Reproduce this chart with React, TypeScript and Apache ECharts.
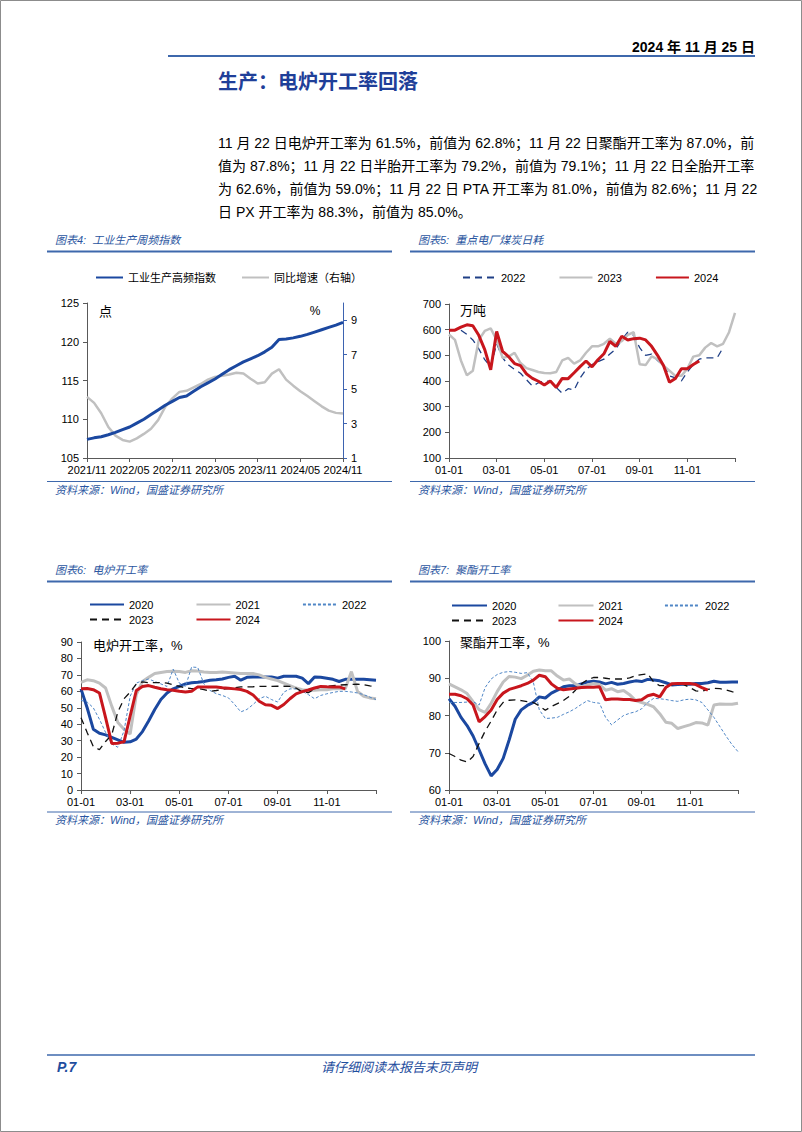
import React, { useEffect, useRef } from 'react';
import * as echarts from 'echarts';

const FONT = '"Liberation Sans", Arial, "Noto Sans CJK SC", sans-serif';
const NAVY = '#1B48A0';
const GRAY = '#C0C0C0';
const RED = '#C8161D';
const LIGHT = '#4F86C6';
const DARK = '#111111';
const RULE = '#3E68AC';
const TEXTBLUE = '#2A55A0';

// ---------- Chart 图表4: 工业生产周频指数 (monthly, from 2021/11) ----------
const idxTickLabels = ['2021/11', '2022/05', '2022/11', '2023/05', '2023/11', '2024/05', '2024/11'];
const industryIndex = [107.4, 107.6, 107.75, 108.0, 108.3, 108.65, 109.0, 109.5, 110.0, 110.6, 111.2, 111.8, 112.3, 112.8, 113.0, 113.6, 114.2, 114.7, 115.2, 115.8, 116.4, 116.9, 117.4, 117.8, 118.2, 118.7, 119.3, 120.3, 120.35, 120.5, 120.7, 120.95, 121.25, 121.55, 121.85, 122.15, 122.5];
const industryYoY = [4.55, 4.2, 3.6, 2.8, 2.3, 2.05, 1.95, 2.14, 2.4, 2.7, 3.2, 3.97, 4.46, 4.84, 4.9, 5.1, 5.3, 5.55, 5.71, 5.78, 5.85, 5.95, 5.9, 5.6, 5.33, 5.4, 5.9, 6.15, 5.55, 5.2, 4.88, 4.6, 4.3, 4.0, 3.75, 3.62, 3.58];

// ---------- shared seasonal x axis (weekly points, step = 1/4 month) ----------
const seasonTickLabels = ['01-01', '03-01', '05-01', '07-01', '09-01', '11-01', ''];
const WEEK_STEP = 0.25;

// ---------- 图表5: 重点电厂煤炭日耗 (万吨) ----------
const coal2022 = [600, 600, 598, 582, 560, 525, 483, 455, 545, 490, 462, 445, 430, 405, 380, 393, 400, 398, 375, 352, 370, 365, 412, 445, 464, 475, 485, 505, 525, 560, 590, 578, 530, 500, 505, 480, 460, 420, 412, 400, 435, 465, 485, 490, 490, 490, 530];
const coal2023 = [581, 560, 480, 422, 440, 560, 595, 605, 560, 490, 495, 510, 470, 450, 443, 435, 431, 430, 435, 480, 490, 468, 480, 510, 535, 535, 545, 565, 545, 555, 580, 590, 465, 462, 496, 485, 460, 440, 420, 420, 448, 495, 500, 530, 548, 535, 545, 590, 665];
const coal2024 = [598, 598, 610, 619, 615, 578, 522, 444, 593, 515, 495, 468, 460, 428, 410, 399, 384, 400, 375, 410, 409, 432, 456, 478, 455, 483, 506, 554, 535, 574, 560, 565, 567, 560, 535, 500, 460, 395, 410, 448, 448, 464, 478];

// ---------- 图表6: 电炉开工率 (%) ----------
const eaf2020 = [61.5, 50, 37, 34.5, 33.5, 32, 30.5, 29, 29.3, 31, 35.5, 42, 49, 55, 59, 61.5, 63, 64.5, 65.2, 65.5, 66, 66.7, 67, 67.5, 68.5, 69.2, 66.8, 68.5, 68.7, 68.7, 68.7, 68.7, 68, 69.2, 69.2, 69.2, 68, 64.7, 68.7, 68.5, 68, 67.3, 66, 67.3, 67.3, 67.3, 67.3, 67, 66.7];
const eaf2021 = [65.5, 67, 66.5, 65, 62, 51, 41, 37, 34, 58, 66, 68.5, 70.8, 71.5, 72, 72.2, 72, 71.5, 72.5, 72.3, 71.8, 71.5, 71.4, 71.8, 71.5, 71.2, 70.8, 70.8, 70.8, 70, 68.5, 67.5, 66.5, 65, 63.5, 62, 61, 60.7, 60.7, 61, 61, 61.5, 61.7, 61.5, 72, 60, 57, 56, 55.5];
const eaf2022 = [54.5, 53.5, 50, 43, 35, 28, 26, 36, 57, 65, 66.5, 67.5, 66, 64.5, 63, 73.5, 65, 63, 74.8, 74.5, 64.5, 60.5, 58.6, 57.5, 56, 52, 47.5, 49, 52, 55.5, 57, 55, 53.5, 59.5, 61.5, 61.5, 60, 58, 55.5, 57.5, 58.5, 59.3, 60, 60, 59.6, 59, 58, 56.5, 55];
const eaf2023 = [44, 35, 26.5, 24.5, 29.5, 33.5, 47.5, 55.5, 59.5, 64.5, 65.7, 65.3, 65.3, 65.3, 65, 64, 63, 62, 61.7, 61.7, 61, 60, 60.5, 61.2, 61.7, 62.2, 62.7, 62.7, 62.8, 63, 63, 63, 63.1, 63.1, 63, 62, 59.6, 59.2, 61.5, 62.5, 63, 63.5, 63.8, 64, 64.2, 64.3, 64, 63.3, 63];
const eaf2024 = [61.5, 61.7, 61, 59, 44, 28.3, 28.5, 29.3, 45, 60.5, 63, 63.5, 62.5, 61.6, 61, 60.7, 60, 59.6, 60, 62.7, 62.7, 62.7, 62.7, 62.2, 61.9, 61.5, 61.1, 60, 57.8, 54, 51.8, 51.5, 49.5, 52, 55.5, 58.5, 59.8, 60.8, 62, 63, 62.8, 62.7, 62.7, 61.5];

// ---------- 图表7: 聚酯开工率 (%) ----------
const pol2020 = [84.5, 82.5, 79.5, 77.3, 74.5, 70.8, 67, 63.8, 65.5, 68.5, 73.5, 79, 81.5, 82.7, 83.5, 85, 84.7, 86, 86.8, 87.7, 88, 88, 88.5, 89, 89.2, 89, 88.5, 88.9, 88.4, 88.6, 89, 89.3, 89.1, 89.7, 89.5, 89.3, 88.8, 88.2, 88.3, 88.4, 88.4, 88.6, 88.6, 88.8, 89.2, 88.9, 88.9, 89, 89];
const pol2021 = [88.5, 87.7, 86.9, 85.9, 83.7, 81.6, 80.8, 83.3, 86.4, 89, 90.5, 90.3, 89.9, 90.8, 91.9, 92.2, 92, 92, 90.6, 89.5, 89.8, 88.5, 87.7, 88.2, 88.6, 88.3, 86.8, 87.2, 86.4, 86.7, 85.6, 84, 83.5, 83, 82.3, 80.5, 78.2, 77.9, 76.5, 77, 77.5, 78.1, 78, 77.4, 82.8, 83.1, 83, 83, 83.3];
const pol2022 = [83.5, 83.5, 83.5, 83.6, 83.7, 82.8, 87.5, 89.8, 91, 91.6, 91.8, 91.6, 91.3, 91.5, 89, 81.5, 79.2, 79.3, 79.5, 80.3, 81, 81.9, 83, 84, 83.5, 83.3, 79.5, 77.5, 78.8, 80, 80.6, 81, 81.8, 83.5, 84.6, 84.5, 84.3, 84, 83.8, 84.2, 84.4, 84.2, 83.5, 81.5, 79.5, 77, 74.5, 72.2, 70.3];
const pol2023 = [69.8, 69, 68, 67.5, 69, 72.5, 75.8, 78.5, 81.5, 83.5, 84.1, 84.2, 84, 83.7, 83.5, 82.6, 81.4, 82.4, 83.2, 84, 85.2, 86.8, 88.5, 89.6, 90.2, 90.2, 90, 89.8, 89.8, 89.8, 90.1, 90.7, 91, 91.2, 89, 88, 88, 88.2, 88.6, 88.3, 87.5, 86.6, 86.5, 87, 87.3, 87.2, 86.9, 86.4, 86];
const pol2024 = [85.7, 85.7, 85.3, 84.5, 82.8, 78.3, 79.7, 81.5, 84.3, 86, 87, 87.5, 88, 88.6, 89.5, 90.8, 90.4, 88.5, 87.3, 86.9, 87.1, 87.3, 87.5, 87.6, 87.6, 87.7, 84.2, 84.4, 84.4, 84.3, 84.3, 84, 84.2, 85.3, 85.7, 85, 87.5, 88.5, 88.6, 88.6, 88.6, 88.3, 87.5, 86.8];

const paragraph = [
  '11 月 22 日电炉开工率为 61.5%，前值为 62.8%；11 月 22 日聚酯开工率为 87.0%，前',
  '值为 87.8%；11 月 22 日半胎开工率为 79.2%，前值为 79.1%；11 月 22 日全胎开工率',
  '为 62.6%，前值为 59.0%；11 月 22 日 PTA 开工率为 81.0%，前值为 82.6%；11 月 22',
  '日 PX 开工率为 88.3%，前值为 85.0%。',
];

function pairs(vals: number[], step: number) {
  return vals.map((v, i) => [i * step, v]);
}

function line(name: string, xi: number, yi: number, data: number[][], color: string, width: number, type: any = 'solid', z = 2) {
  return {
    type: 'line',
    name,
    xAxisIndex: xi,
    yAxisIndex: yi,
    data,
    symbol: 'none',
    showSymbol: false,
    smooth: false,
    lineStyle: { color, width, type },
    itemStyle: { color },
    emphasis: { disabled: true },
    z,
  };
}

const axisLineStyle = { color: '#595959', width: 1 };
const labelStyle = { fontSize: 11, fontFamily: FONT, color: '#000' };

function xAxisSeason(gridIndex: number) {
  return {
    type: 'value',
    gridIndex,
    min: 0,
    max: 12,
    interval: 2,
    axisLine: { show: true, lineStyle: axisLineStyle },
    axisTick: { show: true, length: 4, lineStyle: axisLineStyle },
    axisLabel: { ...labelStyle, margin: 6, formatter: (v: number) => seasonTickLabels[Math.round(v / 2)] ?? '' },
    splitLine: { show: false },
  };
}

function yAxisBasic(gridIndex: number, min: number, max: number, interval: number) {
  return {
    type: 'value',
    gridIndex,
    min,
    max,
    interval,
    axisLine: { show: true, lineStyle: axisLineStyle },
    axisTick: { show: true, length: 4, lineStyle: axisLineStyle },
    axisLabel: { ...labelStyle, margin: 8 },
    splitLine: { show: false },
  };
}

function legend(left: number, top: number, names: string[], itemWidth: number, itemGap: number) {
  return {
    left,
    top,
    orient: 'horizontal',
    itemWidth,
    itemHeight: 10,
    itemGap,
    padding: 0,
    selectedMode: false,
    data: names,
    itemStyle: { opacity: 0, borderWidth: 0 },
    formatter: (n: string) => n.slice(3),
    textStyle: { fontSize: 11, fontFamily: FONT, color: '#000' },
  };
}

function txt(x: number, y: number, text: string, font: string, fill = '#000', align = 'left') {
  return { type: 'text', x, y, silent: true, style: { text, font, fill, align, verticalAlign: 'middle' } };
}
function hline(x1: number, x2: number, y: number, stroke: string, lineWidth: number) {
  return { type: 'line', silent: true, shape: { x1, y1: y, x2, y2: y }, style: { stroke, lineWidth } };
}

const CAP_FONT = `italic 11px ${FONT}`;
const SRC = '资料来源：Wind，国盛证券研究所';

export default function App() {
  const ref = useRef<HTMLDivElement>(null);
  useEffect(() => {
    if (!ref.current) return;
    const chart = echarts.init(ref.current, undefined, { renderer: 'svg' });
    const graphics: any[] = [
      { type: 'rect', silent: true, shape: { x: 0.5, y: 0.5, width: 801, height: 1131 }, style: { fill: 'none', stroke: '#8c8c8c', lineWidth: 1 } },
      txt(755, 47, '2024 年 11 月 25 日', `bold 14px "Liberation Sans Narrow", ${FONT}`, '#000', 'right'),
      hline(168, 755, 56, RULE, 2),
      txt(218, 80, '生产：电炉开工率回落', `bold 20px "Noto Sans CJK SC", ${FONT}`, '#1F3F99'),
      ...paragraph.map((t, i) => txt(218, 143 + i * 23, t, `14px ${FONT}`, '#000')),
      // captions
      txt(55, 240, '图表4:  工业生产周频指数', CAP_FONT, TEXTBLUE),
      txt(418, 240, '图表5:  重点电厂煤炭日耗', CAP_FONT, TEXTBLUE),
      txt(55, 570, '图表6:  电炉开工率', CAP_FONT, TEXTBLUE),
      txt(418, 570, '图表7:  聚酯开工率', CAP_FONT, TEXTBLUE),
      hline(47, 392, 251.5, RULE, 2),
      hline(410, 755, 251.5, RULE, 2),
      hline(47, 392, 581.5, RULE, 2),
      hline(410, 755, 581.5, RULE, 2),
      hline(47, 392, 481.5, RULE, 1),
      hline(410, 755, 481.5, RULE, 1),
      hline(47, 392, 812, RULE, 1),
      hline(410, 755, 812, RULE, 1),
      txt(55, 490, SRC, CAP_FONT, TEXTBLUE),
      txt(418, 490, SRC, CAP_FONT, TEXTBLUE),
      txt(55, 820, SRC, CAP_FONT, TEXTBLUE),
      txt(418, 820, SRC, CAP_FONT, TEXTBLUE),
      // unit labels
      txt(99, 311, '点', `13px ${FONT}`),
      txt(315, 311, '%', `12px ${FONT}`, '#000', 'center'),
      txt(460, 310, '万吨', `13px ${FONT}`),
      txt(93, 645, '电炉开工率，%', `13px ${FONT}`),
      txt(460, 642, '聚酯开工率，%', `13px ${FONT}`),
      // footer
      hline(47, 755, 1055, RULE, 1.5),
      txt(57, 1067, 'P.7', `italic bold 14px ${FONT}`, '#1F4E9E'),
      txt(399, 1067, '请仔细阅读本报告末页声明', `italic 13px ${FONT}`, '#1F4E9E', 'center'),
    ];

    const option: any = {
      animation: false,
      backgroundColor: '#fff',
      textStyle: { fontFamily: FONT },
      grid: [
        { left: 87, top: 303, width: 256, height: 155, outerBoundsMode: 'none' },
        { left: 449, top: 304, width: 286, height: 154, outerBoundsMode: 'none' },
        { left: 81, top: 642, width: 295, height: 148, outerBoundsMode: 'none' },
        { left: 449, top: 641, width: 289, height: 149, outerBoundsMode: 'none' },
      ],
      xAxis: [
        {
          type: 'value',
          gridIndex: 0,
          min: 0,
          max: 36,
          interval: 6,
          axisLine: { show: true, lineStyle: axisLineStyle },
          axisTick: { show: true, length: 4, lineStyle: axisLineStyle },
          axisLabel: { ...labelStyle, margin: 6, formatter: (v: number) => idxTickLabels[Math.round(v / 6)] ?? '' },
          splitLine: { show: false },
        },
        xAxisSeason(1),
        xAxisSeason(2),
        xAxisSeason(3),
      ],
      yAxis: [
        yAxisBasic(0, 105, 125, 5),
        {
          type: 'value',
          gridIndex: 0,
          position: 'right',
          min: 1,
          max: 10,
          interval: 2,
          axisLine: { show: true, lineStyle: { color: '#3D63B0', width: 1 } },
          axisTick: { show: true, length: 4, lineStyle: { color: '#3D63B0' }, customValues: [1, 3, 5, 7, 9] },
          axisLabel: { ...labelStyle, margin: 8, customValues: [1, 3, 5, 7, 9], formatter: (v: number) => (v > 9 ? '' : String(v)) },
          splitLine: { show: false },
        },
        yAxisBasic(1, 100, 700, 100),
        yAxisBasic(2, 0, 90, 10),
        yAxisBasic(3, 60, 100, 10),
      ],
      legend: [
        legend(95, 272, ['c1-工业生产高频指数', 'c1-同比增速（右轴）'], 27, 25),
        legend(462, 272, ['c2-2022', 'c2-2023', 'c2-2024'], 33, 33),
        legend(89, 599, ['c3-2020', 'c3-2021', 'c3-2022'], 34, 42),
        legend(89, 614, ['c3-2023', 'c3-2024'], 34, 42),
        legend(451, 600, ['c4-2020', 'c4-2021', 'c4-2022'], 35, 41),
        legend(451, 615, ['c4-2023', 'c4-2024'], 35, 41),
      ],
      series: [
        line('c1-同比增速（右轴）', 0, 1, pairs(industryYoY, 1), GRAY, 2.5),
        line('c1-工业生产高频指数', 0, 0, pairs(industryIndex, 1), NAVY, 3, 'solid', 3),

        line('c2-2022', 1, 2, pairs(coal2022, WEEK_STEP), '#1F3F86', 1.3, [7, 5]),
        line('c2-2023', 1, 2, pairs(coal2023, WEEK_STEP), GRAY, 2.5),
        line('c2-2024', 1, 2, pairs(coal2024, WEEK_STEP), RED, 3),

        line('c3-2020', 2, 3, pairs(eaf2020, WEEK_STEP), NAVY, 3),
        line('c3-2021', 2, 3, pairs(eaf2021, WEEK_STEP), GRAY, 3),
        line('c3-2022', 2, 3, pairs(eaf2022, WEEK_STEP), LIGHT, 1, [3, 2]),
        line('c3-2023', 2, 3, pairs(eaf2023, WEEK_STEP), DARK, 1.3, [7, 5]),
        line('c3-2024', 2, 3, pairs(eaf2024, WEEK_STEP), RED, 3),

        line('c4-2020', 3, 4, pairs(pol2020, WEEK_STEP), NAVY, 3),
        line('c4-2021', 3, 4, pairs(pol2021, WEEK_STEP), GRAY, 3),
        line('c4-2022', 3, 4, pairs(pol2022, WEEK_STEP), LIGHT, 1, [3, 2]),
        line('c4-2023', 3, 4, pairs(pol2023, WEEK_STEP), DARK, 1.3, [7, 5]),
        line('c4-2024', 3, 4, pairs(pol2024, WEEK_STEP), RED, 3),
      ],
      graphic: graphics,
    };
    chart.setOption(option);
    return () => chart.dispose();
  }, []);

  return (
    <div
      ref={ref}
      style={{ position: 'absolute', left: 0, top: 0, width: 802, height: 1132, background: '#fff' }}
    />
  );
}
